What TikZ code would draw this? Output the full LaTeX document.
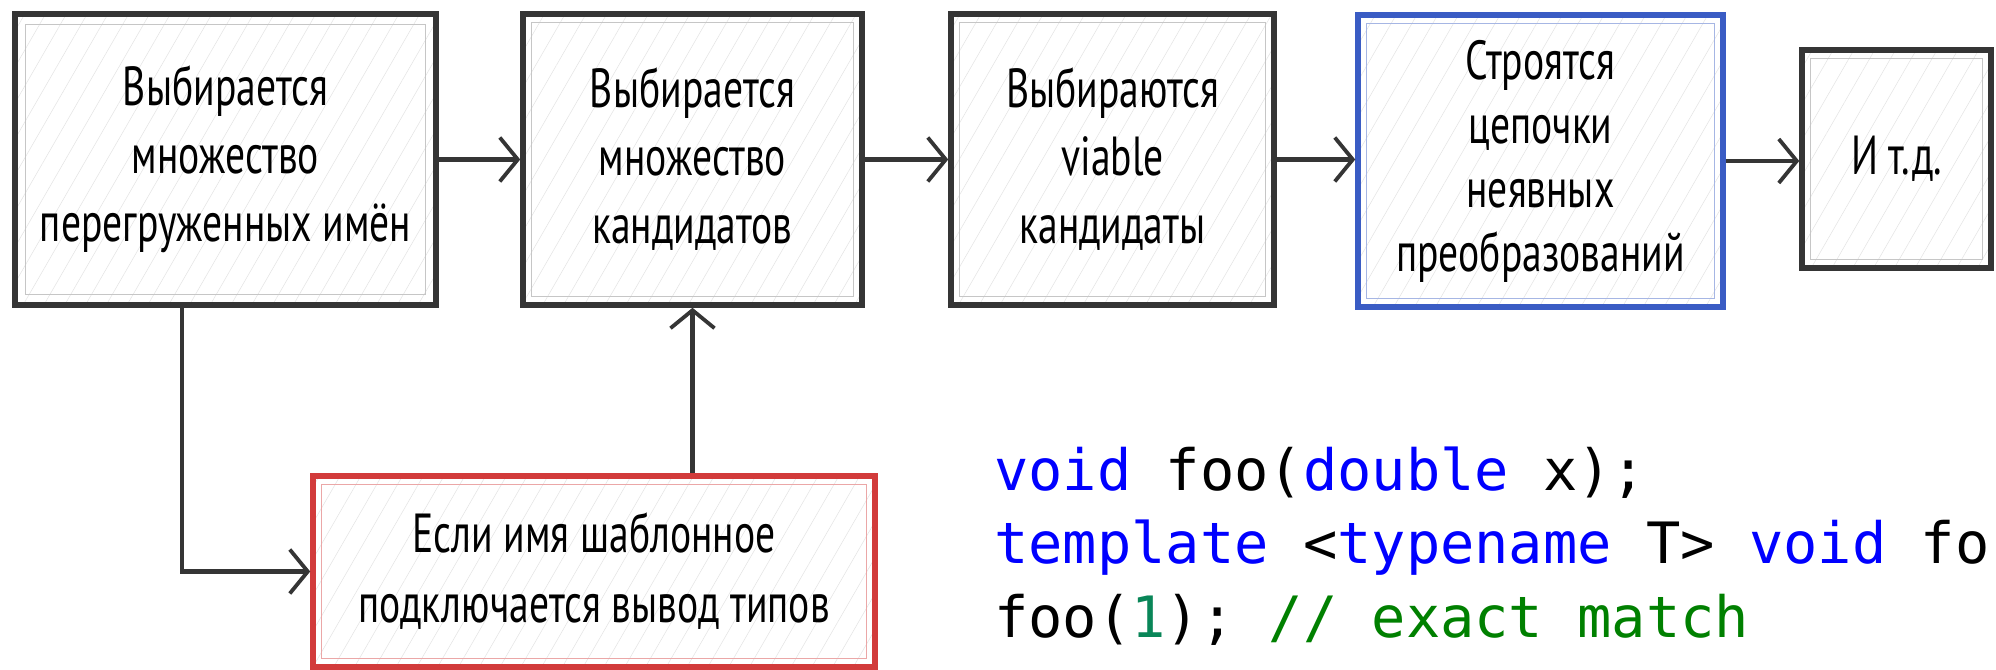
\documentclass[tikz,border=0pt]{standalone}
\usepackage{fontspec}
\setmainfont{PT Sans}
\newfontfamily\handfont[FakeStretch=0.72]{PT Sans}
\newfontfamily\codefont{DejaVu Sans Mono}
\usetikzlibrary{arrows.meta,patterns.meta}
\definecolor{kwblue}{HTML}{0000FF}
\definecolor{numteal}{HTML}{098658}
\definecolor{cmtgreen}{HTML}{008000}
\definecolor{sketchblue}{HTML}{3A5CC4}
\definecolor{sketchred}{HTML}{D23B3B}
\definecolor{ink}{HTML}{353535}
\tikzset{
  box/.style={draw=#1, line width=5.5pt, inner sep=0pt, align=center,
    pattern={Lines[angle=60,distance=18pt,line width=0.5pt]}, pattern color=gray!22,
    font=\handfont\fontsize{55}{68}\selectfont, text=black},
  innerframe/.style={draw=#1, line width=0.9pt},
  conn/.style={draw=ink, line width=4.5pt, -{Straight Barb[length=18pt,width=44pt,line width=3.8pt]}},
  codeline/.style={anchor=base west, inner sep=0pt, font=\codefont\fontsize{57}{74}\selectfont}
}
\begin{document}
\begin{tikzpicture}[x=1pt,y=-1pt]
\path[use as bounding box, fill=white] (0,0) rectangle (1996,669);

\node[box=ink, minimum width=421pt, minimum height=291pt] (b1) at (225.5,159.5)
  {Выбирается\\множество\\перегруженных имён};
\node[box=ink, minimum width=339pt, minimum height=291pt] (b2) at (692.5,159.5)
  {Выбирается\\множество\\кандидатов};
\node[box=ink, minimum width=323pt, minimum height=291pt] (b3) at (1112.5,159.5)
  {Выбираются\\viable\\кандидаты};
\node[box=sketchblue, minimum width=365pt, minimum height=292pt,
  font=\handfont\fontsize{55}{64}\selectfont] (b4) at (1540.5,161)
  {Строятся\\цепочки\\неявных\\преобразований};
\node[box=ink, minimum width=189pt, minimum height=218pt] (b5) at (1896.5,159)
  {И т.д.};
\node[box=sketchred, minimum width=562pt, minimum height=191pt,
  font=\handfont\fontsize{55}{70}\selectfont] (red) at (594,571.5)
  {Если имя шаблонное\\подключается вывод типов};

\foreach \n/\c in {b1/gray!45, b2/gray!45, b3/gray!45, b4/sketchblue!45, b5/gray!45, red/sketchred!45}
  \draw[innerframe=\c] ([shift={(11,11)}]\n.north west) rectangle ([shift={(-11,-11)}]\n.south east);

\draw[conn] (b1.east) -- (b2.west);
\draw[conn] (b2.east) -- (b3.west);
\draw[conn] (b3.east) -- (b4.west |- b3.east);
\draw[conn] (b4.east) -- (b5.west |- b4.east);
\draw[conn] ([xshift=167pt]b1.south west) |- (red.west);
\draw[conn] (b2.south |- red.north) -- (b2.south);

\node[codeline] (code1) at (994,490)
  {\textcolor{kwblue}{void} foo(\textcolor{kwblue}{double} x);};
\node[codeline] (code2) at (994,563)
  {\textcolor{kwblue}{template} <\textcolor{kwblue}{typename} T> \textcolor{kwblue}{void} fo};
\node[codeline] (code3) at (994,637)
  {foo(\textcolor{numteal}{1}); \textcolor{cmtgreen}{// exact match}};
\end{tikzpicture}
\end{document}
